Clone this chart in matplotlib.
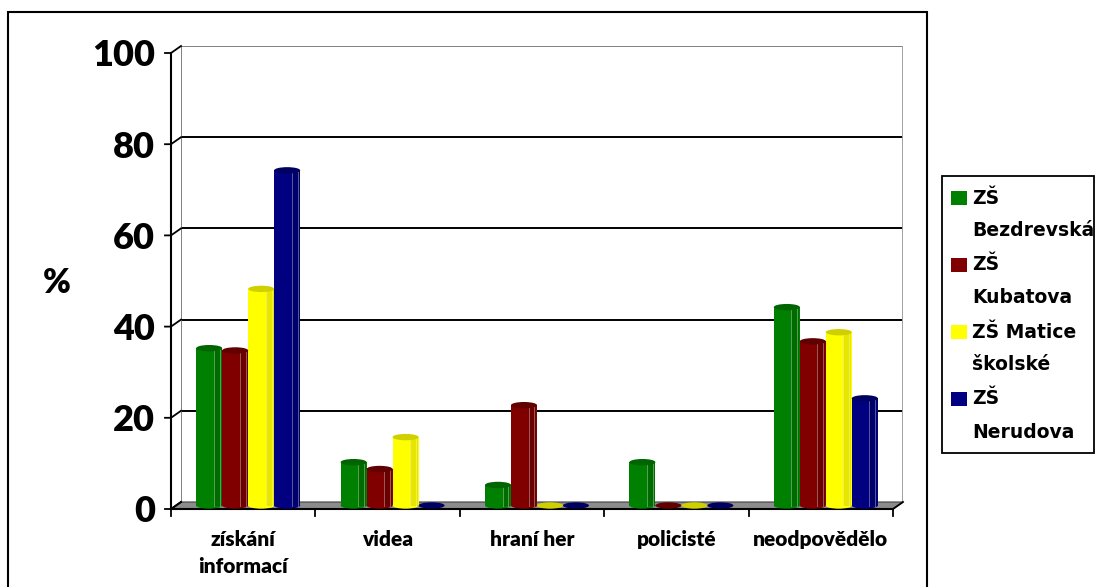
import matplotlib
matplotlib.use("Agg")
import matplotlib.pyplot as plt
import matplotlib.transforms as mtransforms
from matplotlib.patches import Rectangle, Ellipse, Polygon
import numpy as np

W, H = 1097, 587

categories = ["získání\ninformací", "videa", "hraní her", "policisté", "neodpovědělo"]
schools = ["ZŠ\nBezdrevská", "ZŠ\nKubatova", "ZŠ Matice\nškolské", "ZŠ\nNerudova"]
bezdrevska = [34.5, 9.5, 4.5, 9.5, 43.5]
kubatova = [34, 8, 22, 0, 36]
matice = [47.5, 15, 0, 0, 38]
nerudova = [73.5, 0, 0, 0, 23.5]
yticks = [0, 20, 40, 60, 80, 100]

series = [bezdrevska, kubatova, matice, nerudova]
colors = ["#008000", "#800000", "#ffff00", "#000080"]
shade = ["#006c00", "#6a0000", "#e6e600", "#00006a"]
caps = ["#006400", "#600000", "#d0d000", "#000060"]

plt.rcParams["font.family"] = ["Lato", "DejaVu Sans"]
plt.rcParams["font.weight"] = "heavy"


def fx(px):
    return px / W


def fy(py):
    return 1 - py / H


fig = plt.figure(figsize=(W / 100, H / 100), dpi=100)

# outer chart border (bottom edge runs off the picture)
fig.patches.append(Rectangle((fx(8), fy(600)), fx(927) - fx(8), fy(12) - fy(600),
                             transform=fig.transFigure, fill=False, ec="black", lw=1.5))

# axes = back wall of the 3d box
ax = fig.add_axes([fx(181), fy(502), fx(903) - fx(181), fy(46) - fy(502)])
ax.set_xlim(0, len(categories))
ax.set_ylim(0, 100)
ax.axis("off")


def shifted(dx, dy):
    return mtransforms.offset_copy(ax.transData, fig=fig, x=dx, y=dy, units="dots")


front = shifted(-10, -7)
mid = shifted(-5, -3.5)


def to_fig(trans, pts):
    return fig.transFigure.inverted().transform(trans.transform(pts))


# back wall gridlines and edges
for v in yticks[1:]:
    c = "black" if v < 100 else "#808080"
    ax.plot([0, len(categories)], [v, v], color=c, lw=1.4, solid_capstyle="butt")
ax.plot([0, 0], [0, 100], color="#808080", lw=1.4)
ax.plot([len(categories)] * 2, [0, 100], color="#a0a0a0", lw=1.4)

# floor
n = len(categories)
floor = np.vstack([to_fig(ax.transData, [(0, 0), (n, 0)]),
                   to_fig(front, [(n, 0), (0, 0)])])
ax.add_patch(Polygon(floor, closed=True, transform=fig.transFigure,
                     fc="#8c8c8c", ec="#404040", lw=0.8, clip_on=False, zorder=2))

# front y axis with ticks and connectors to the wall
ax.plot([0, 0], [0, 100], color="black", lw=1.5, transform=front, clip_on=False)
for v in yticks:
    p = to_fig(front, [(0, v)])[0]
    q = to_fig(ax.transData, [(0, v)])[0]
    fig.lines.append(plt.Line2D([p[0] - fx(6), p[0], q[0]], [p[1], p[1], q[1]],
                                transform=fig.transFigure, color="black", lw=1.3))
    ax.text(0, v, str(v), transform=shifted(-26, -10), ha="right", va="center",
            fontsize=26, clip_on=False)

# front x axis
ax.plot([0, n], [0, 0], color="black", lw=1.5, transform=front, clip_on=False)
for i in range(n + 1):
    p = to_fig(front, [(i, 0)])[0]
    fig.lines.append(plt.Line2D([p[0], p[0]], [p[1], p[1] - fy(0) + fy(7)],
                                transform=fig.transFigure, color="black", lw=1.3))
    p2 = to_fig(ax.transData, [(i, 0)])[0]
    if i in (0, n):
        fig.lines.append(plt.Line2D([p[0], p2[0]], [p[1], p2[1]],
                                    transform=fig.transFigure, color="black", lw=1.3))

for i, cat in enumerate(categories):
    ax.text(i + 0.5, 0, cat, transform=shifted(-10, -28), ha="center", va="top",
            fontsize=15, linespacing=1.5, clip_on=False)

fig.text(fx(57), fy(283), "%", ha="center", va="center", fontsize=24)

# cylinder bars
bw = 0.18
cap_h = 1.4
x = np.arange(n) + 0.5
for k, vals in enumerate(series):
    left = x - 2 * bw + k * bw
    for xl, v in zip(left, vals):
        ax.add_patch(Ellipse((xl + bw / 2, 0), bw, cap_h, transform=mid,
                             fc=colors[k] if v > 0 else caps[k], ec="none",
                             clip_on=False, zorder=3))
        if v <= 0:
            continue
        ax.add_patch(Rectangle((xl, 0), bw, v, transform=mid, fc=colors[k],
                               ec="none", clip_on=False, zorder=3))
        ax.add_patch(Rectangle((xl + bw * 0.68, 0), bw * 0.3, v, transform=mid,
                               fc=shade[k], ec="none", clip_on=False, zorder=3))
        ax.plot([xl + bw * 0.68] * 2, [0, v], transform=mid, color="white",
                alpha=0.35, lw=0.7, zorder=4, clip_on=False)
        ax.plot([xl + bw * 0.9] * 2, [0, v], transform=mid, color="white",
                alpha=0.35, lw=0.7, zorder=4, clip_on=False)
        ax.add_patch(Ellipse((xl + bw / 2, v), bw, cap_h, transform=mid,
                             fc=caps[k], ec="none", clip_on=False, zorder=5))

# legend drawn by hand to keep the two-line labels aligned like the original
fig.patches.append(Rectangle((fx(942), fy(453)), fx(1094) - fx(942), fy(176) - fy(453),
                             transform=fig.transFigure, fill=False, ec="black", lw=1.3))
for k, name in enumerate(schools):
    top = 198 + k * 67
    fig.patches.append(Rectangle((fx(951), fy(top + 7)), fx(16), fy(0) - fy(14),
                                 transform=fig.transFigure, fc=colors[k], ec="none"))
    first, second = name.split("\n")
    for j, line in enumerate((first, second)):
        fig.text(fx(972), fy(top + 33 * j), line, ha="left", va="center",
                 fontsize=13.5, fontweight="bold", family="DejaVu Sans")

fig.savefig("out.png", dpi=100)
